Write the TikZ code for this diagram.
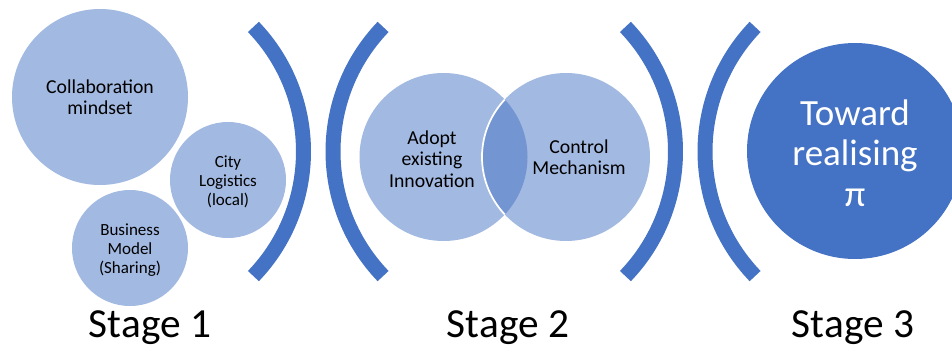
\documentclass[tikz,border=0pt]{standalone}
\usepackage{fontspec}
\setmainfont{Carlito}
\definecolor{darkblue}{HTML}{4472C4}
\definecolor{lightblue}{HTML}{A2B9E1}
\definecolor{midblue}{HTML}{7395D2}
\begin{document}
\begin{tikzpicture}[x=0.75pt,y=0.75pt,
  bracket/.style={draw=darkblue,line width=11.25pt,line cap=butt},
  bubble/.style={circle,fill=lightblue,inner sep=0pt},
  smalltxt/.style={align=center,font=\fontsize{12.75pt}{14.3pt}\selectfont,text=black},
  midtxt/.style={align=center,font=\fontsize{14.8pt}{16.1pt}\selectfont,text=black},
  stagetxt/.style={anchor=base,font=\fontsize{31pt}{36pt}\selectfont,text=black}]
\useasboundingbox (0,0) rectangle (952,347);
\clip (0,0) rectangle (952,347);
% brackets
\coordinate (b1) at (123.5,195.5);
\coordinate (b2) at (513,195.5);
\coordinate (b3) at (495.5,195.5);
\coordinate (b4) at (885,195.5);
\draw[bracket] (b1) ++(-43.8:135pt) arc[start angle=-43.8,end angle=43.8,radius=135pt];
\draw[bracket] (b2) ++(136.2:135pt) arc[start angle=136.2,end angle=223.8,radius=135pt];
\draw[bracket] (b3) ++(-43.8:135pt) arc[start angle=-43.8,end angle=43.8,radius=135pt];
\draw[bracket] (b4) ++(136.2:135pt) arc[start angle=136.2,end angle=223.8,radius=135pt];
% stage 1
\node[bubble,minimum size=132pt] (collab) at (100,250) {};
\node[bubble,minimum size=87pt] (city) at (228,167) {};
\node[bubble,minimum size=87pt] (business) at (130,99) {};
\node[midtxt] (collabt) at (100,250) {Collaboration\\mindset};
\node[smalltxt] (cityt) at (228,165) {City\\Logistics\\(local)};
\node[smalltxt] (businesst) at (130,97) {Business\\Model\\(Sharing)};
% stage 2
\node[bubble,minimum size=126pt] (adopt) at (443.5,190) {};
\node[bubble,minimum size=126pt] (control) at (566,190) {};
\begin{scope}
  \clip (443.5,190) circle[radius=63pt];
  \fill[midblue] (566,190) circle[radius=63pt];
  \draw[white,line width=1.3pt] (566,190) circle[radius=63pt];
\end{scope}
\node[midtxt] (adoptt) at (432,188) {Adopt\\existing\\Innovation};
\node[midtxt] (controlt) at (579,190) {Control\\Mechanism};
% stage 3
\node[circle,fill=darkblue,inner sep=0pt,minimum size=162pt] (pi) at (855,196) {};
\node[align=center,text=white,font=\fontsize{27.75pt}{30.4pt}\selectfont] (pit) at (855,194) {Toward\\realising\\π};
% labels
\node[stagetxt] (s1) at (150,10) {Stage 1};
\node[stagetxt] (s2) at (508,10) {Stage 2};
\node[stagetxt] (s3) at (853,10) {Stage 3};
\end{tikzpicture}
\end{document}
